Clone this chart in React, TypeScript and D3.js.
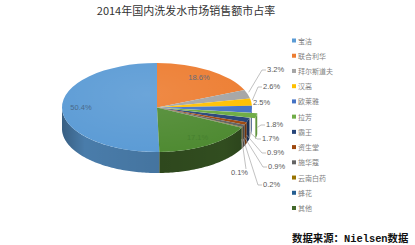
import React from 'react';
import * as d3 from 'd3';

const brands = ['宝洁', '联合利华', '拜尔斯道夫', '汉高', '欧莱雅', '拉芳', '霸王', '资生堂', '施华蔻', '云南白药', '蜂花', '其他'];
const shares = [50.4, 18.6, 3.2, 2.6, 2.5, 1.8, 1.7, 0.9, 0.9, 0.2, 0.1, 17.1];
const title = '2014年国内洗发水市场销售额市占率';
const source = '数据来源：Nielsen数据';

const COLORS = ['#5B9BD5', '#ED7D31', '#A5A5A5', '#FFC000', '#4472C4', '#70AD47', '#264478', '#9E480E', '#636363', '#997300', '#255E91', '#43682B'];
const TOP_OVERRIDE: Record<number, string> = { 11: '#4E8A31' };

const W = 415, H = 245;
const cx = 157, cy = 107.5, rx = 95, ry = 44.5, depth = 21;
const EXPLODED = 5;
const EXPLODE_DIST = 6;

// label layout: text x / baseline y for outside labels; anchor 'start' unless noted
const OUT_LABELS: Record<number, { x: number; y: number; anchor?: string; line?: boolean }> = {
  2: { x: 267, y: 72, line: true },
  3: { x: 263, y: 89, line: true },
  4: { x: 253, y: 105, line: false },
  5: { x: 266, y: 127, line: true },
  6: { x: 262, y: 141, line: true },
  7: { x: 267, y: 155, line: true },
  8: { x: 268, y: 169, line: true },
  9: { x: 263, y: 187, line: true },
  10: { x: 248, y: 175, anchor: 'end', line: true },
};

const pct = (v: number) => `${v.toFixed(1)}%`;

function ellPt(a: number, dx = 0, dy = 0, down = 0): [number, number] {
  return [cx + dx + rx * Math.sin(a), cy + dy - ry * Math.cos(a) + down];
}

function wallPath(a0: number, a1: number, dx = 0, dy = 0): string | null {
  const lo = Math.PI / 2, hi = (3 * Math.PI) / 2;
  let s = a0, e = a1;
  while (s < 0) { s += 2 * Math.PI; e += 2 * Math.PI; }
  const segs: [number, number][] = [];
  for (const off of [-2 * Math.PI, 0, 2 * Math.PI]) {
    const ss = Math.max(s + off, lo), ee = Math.min(e + off, hi);
    if (ee > ss) segs.push([ss, ee]);
  }
  if (!segs.length) return null;
  return segs
    .map(([ss, ee]) => {
      const n = Math.max(2, Math.ceil((ee - ss) / 0.02));
      const ts = d3.range(n + 1).map((i) => ss + ((ee - ss) * i) / n);
      const top = ts.map((t) => ellPt(t, dx, dy));
      const bot = ts.slice().reverse().map((t) => ellPt(t, dx, dy, depth));
      return 'M' + top.concat(bot).map((p) => p[0].toFixed(2) + ',' + p[1].toFixed(2)).join('L') + 'Z';
    })
    .join('');
}

export default function App() {
  const total = d3.sum(shares);
  const start = -(shares[0] / total) * 2 * Math.PI;
  const pie = d3.pie<number>().sort(null).value((d) => d).startAngle(start).endAngle(start + 2 * Math.PI);
  const arcs = pie(shares);
  const arcGen = d3.arc<d3.PieArcDatum<number>>().innerRadius(0).outerRadius(rx);

  const offset = (i: number): [number, number] => {
    if (i !== EXPLODED) return [0, 0];
    const m = (arcs[i].startAngle + arcs[i].endAngle) / 2;
    return [EXPLODE_DIST * Math.sin(m), -EXPLODE_DIST * (ry / rx) * Math.cos(m)];
  };

  const topColor = (i: number) => TOP_OVERRIDE[i] ?? COLORS[i];
  const sideColor = (i: number) => d3.color(COLORS[i])!.darker(i === 11 ? 0.7 : 0.45).formatHex();

  const order = d3.range(arcs.length).filter((i) => i !== EXPLODED);

  const legendY = d3.scalePoint<number>().domain(d3.range(brands.length)).range([40.5, 208]);

  const renderWall = (i: number) => {
    const [dx, dy] = offset(i);
    const p = wallPath(arcs[i].startAngle, arcs[i].endAngle, dx, dy);
    return p ? <path key={'w' + i} d={p} fill={sideColor(i)} /> : null;
  };
  const renderTop = (i: number) => {
    const [dx, dy] = offset(i);
    return (
      <path
        key={'t' + i}
        d={arcGen(arcs[i]) || ''}
        transform={`translate(${cx + dx},${cy + dy}) scale(1,${ry / rx})`}
        fill={topColor(i)}
      />
    );
  };

  const shadeFront = wallPath(Math.PI / 2, (3 * Math.PI) / 2)!;

  return (
    <svg
      width={W}
      height={H}
      viewBox={`0 0 ${W} ${H}`}
      style={{ position: 'absolute', left: 0, top: 0, background: '#fff' }}
    >
      <defs>
        <linearGradient id="wallShade" gradientUnits="userSpaceOnUse" x1={cx - rx} x2={cx + rx} y1={0} y2={0}>
          <stop offset="0" stopColor="#000" stopOpacity={0.28} />
          <stop offset="0.12" stopColor="#000" stopOpacity={0.06} />
          <stop offset="0.5" stopColor="#000" stopOpacity={0.12} />
          <stop offset="0.85" stopColor="#000" stopOpacity={0.05} />
          <stop offset="1" stopColor="#000" stopOpacity={0.2} />
        </linearGradient>
        <radialGradient id="topLight" cx="0.45" cy="0.35" r="0.7">
          <stop offset="0" stopColor="#fff" stopOpacity={0.1} />
          <stop offset="1" stopColor="#fff" stopOpacity={0} />
        </radialGradient>
      </defs>

      <text
        x={186}
        y={15}
        textAnchor="middle"
        fontFamily="'Noto Sans CJK SC', sans-serif"
        fontSize={11}
        fill="#333"
      >
        {title}
      </text>

      {order.map(renderWall)}
      <path d={shadeFront} fill="url(#wallShade)" />
      {order.map(renderTop)}
      <ellipse cx={cx} cy={cy} rx={rx} ry={ry} fill="url(#topLight)" />
      {renderWall(EXPLODED)}
      {renderTop(EXPLODED)}

      {[0, 1, 11].map((i) => {
        const m = (arcs[i].startAngle + arcs[i].endAngle) / 2;
        const [x, y] = [cx + 0.8 * rx * Math.sin(m), cy - 0.8 * ry * Math.cos(m)];
        return (
          <text
            key={'il' + i}
            x={x}
            y={y}
            textAnchor="middle"
            dominantBaseline="central"
            fontFamily="'Liberation Sans', Arial, sans-serif"
            fontSize={7.5}
            fill={i === 11 ? '#46802f' : '#4a6a8a'}
            opacity={i === 1 ? 0.85 : 1}
          >
            {pct(shares[i])}
          </text>
        );
      })}

      {Object.keys(OUT_LABELS).map((k) => {
        const i = +k;
        const L = OUT_LABELS[i];
        const m = (arcs[i].startAngle + arcs[i].endAngle) / 2;
        const [dx, dy] = offset(i);
        const front = Math.cos(m) < 0;
        const [ax, ay] = ellPt(m, dx, dy, front ? depth * 0.55 : 0);
        let line = '';
        if (L.line) {
          if (L.anchor === 'end') {
            line = `M${ax},${ay}L${L.x - 2},${L.y - 6}`;
          } else {
            line = `M${ax + 1},${ay - (front ? 0 : 2)}L${L.x - 5},${L.y - 2}L${L.x - 1},${L.y - 2}`;
          }
        }
        return (
          <g key={'ol' + i}>
            {line && <path d={line} fill="none" stroke="#a6a6a6" strokeWidth={0.7} />}
            <text
              x={L.x}
              y={L.y}
              textAnchor={L.anchor || 'start'}
              fontFamily="'Liberation Sans', Arial, sans-serif"
              fontSize={7.5}
              fill="#595959"
            >
              {pct(shares[i])}
            </text>
          </g>
        );
      })}

      {brands.map((b, i) => (
        <g key={'lg' + i} transform={`translate(292,${legendY(i)})`}>
          <rect x={0} y={-2} width={4} height={4} fill={COLORS[i]} />
          <text
            x={6}
            y={0}
            dominantBaseline="central"
            fontFamily="'Noto Sans CJK SC', sans-serif"
            fontSize={7}
            fill="#7f7f7f"
          >
            {b}
          </text>
        </g>
      ))}

      <text
        x={292}
        y={242}
        fontFamily="'Liberation Mono', 'Noto Sans CJK SC', monospace"
        fontWeight="bold"
        fontSize={10.4}
        fill="#111"
      >
        {source}
      </text>
    </svg>
  );
}
